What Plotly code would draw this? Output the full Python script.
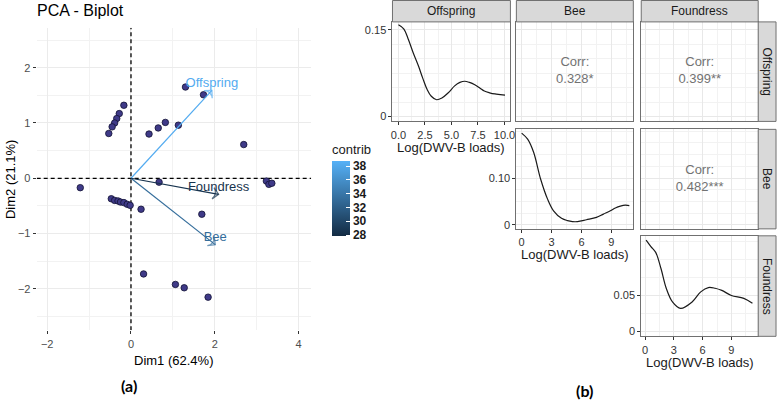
import plotly.graph_objects as go
from plotly.colors import sample_colorscale

W, H = 784, 403

# ---------------- data ----------------
ind_x = [1.30, 1.73, -0.17, -0.28, -0.34, -0.39, -0.45, -0.53, 0.43, 0.65, 0.82, 1.13, 2.69,
         0.67, -1.21, 3.23, 3.29, 3.36, -0.47, -0.39, -0.31, -0.25, -0.17, -0.09, -0.02,
         0.24, 1.69, 0.30, 1.06, 1.27, 1.84]
ind_y = [1.65, 1.51, 1.32, 1.17, 1.08, 1.00, 0.93, 0.81, 0.80, 0.91, 1.01, 0.96, 0.61,
         -0.07, -0.17, -0.05, -0.11, -0.09, -0.37, -0.40, -0.41, -0.43, -0.44, -0.47, -0.49,
         -0.56, -0.65, -1.73, -1.92, -1.98, -2.15]

var_names = ["Offspring", "Bee", "Foundress"]
var_x = [1.93, 2.01, 2.09]
var_y = [1.59, -1.20, -0.29]
var_contrib = [38.3, 33.2, 28.5]
contrib_ticks = [28, 30, 32, 34, 36, 38]

off_x = [0.0, 0.5, 0.95, 1.4, 1.9, 2.3, 2.7, 3.1, 3.6, 4.1, 4.7, 5.3, 5.8, 6.25, 6.7, 7.2, 7.7, 8.1, 8.6, 9.1, 9.6, 10.05]
off_y = [0.159, 0.152, 0.133, 0.110, 0.087, 0.066, 0.047, 0.035, 0.029, 0.032, 0.041, 0.053, 0.059, 0.061, 0.059, 0.055, 0.049, 0.044, 0.041, 0.039, 0.038, 0.037]
bee_x = [0.0, 0.6, 1.2, 1.9, 2.6, 3.2, 4.0, 4.6, 5.1, 5.6, 6.5, 7.5, 8.2, 8.9, 9.4, 9.9, 10.4, 10.8]
bee_y = [0.196, 0.183, 0.155, 0.098, 0.055, 0.030, 0.014, 0.009, 0.007, 0.007, 0.011, 0.016, 0.023, 0.030, 0.036, 0.040, 0.042, 0.041]
fou_x = [0.1, 0.6, 1.1, 1.65, 2.2, 2.85, 3.7, 4.9, 5.8, 6.6, 7.3, 8.0, 9.0, 10.3, 11.2]
fou_y = [0.127, 0.118, 0.110, 0.0875, 0.060, 0.041, 0.032, 0.041, 0.055, 0.061, 0.060, 0.057, 0.050, 0.046, 0.039]

corr_labels = ["0.328*", "0.399**", "0.482***"]   # Bee-Off, Fou-Off, Fou-Bee
x_title = "Log(DWV-B loads)"

# ---------------- helpers ----------------
def px(x):
    return x / W

def py(y):
    return 1 - y / H

FONT = "Liberation Sans, Arial, sans-serif"
CMIN, CMAX = 27.85, 38.75
SCALE = [[0, "#132B43"], [1, "#56B1F7"]]
var_cols = sample_colorscale(SCALE, [(c - CMIN) / (CMAX - CMIN) for c in var_contrib])

fig = go.Figure()

# ---------------- biplot ----------------
fig.add_trace(go.Scatter(
    x=ind_x, y=ind_y, mode="markers", xaxis="x", yaxis="y",
    marker=dict(size=6.5, color="#3F3A88", line=dict(color="#111133", width=0.8)),
    showlegend=False, hoverinfo="skip"))

for name, vx, vy, col in zip(var_names, var_x, var_y, var_cols):
    fig.add_trace(go.Scatter(
        x=[0, vx], y=[0, vy], mode="lines+markers", xaxis="x", yaxis="y",
        line=dict(color=col, width=1.2),
        marker=dict(symbol=["circle", "arrow-wide-open"], size=[0, 8], angleref="previous",
                    color=col, line=dict(color=col, width=1.3)),
        showlegend=False, hoverinfo="skip"))
    fig.add_trace(go.Scatter(
        x=[vx], y=[vy], mode="text", text=[name], textposition="top center",
        xaxis="x", yaxis="y", textfont=dict(color=col, size=13, family=FONT),
        showlegend=False, hoverinfo="skip"))

# colour bar
fig.add_trace(go.Scatter(
    x=var_x, y=var_y, mode="markers", xaxis="x", yaxis="y",
    marker=dict(size=0.1, opacity=0, color=var_contrib, colorscale=SCALE, cmin=CMIN, cmax=CMAX,
                showscale=True,
                colorbar=dict(x=px(333), xanchor="left", y=py(189.5), yanchor="middle",
                              len=95.6 / H, lenmode="fraction", thickness=18,
                              xpad=0, ypad=0, outlinewidth=0,
                              tickvals=contrib_ticks, ticks="inside", ticklen=4,
                              tickcolor="white", tickwidth=1,
                              tickfont=dict(size=12, color="#1a1a1a", family=FONT, weight="bold"),
                              title=dict(text="contrib", side="top",
                                         font=dict(size=13, color="#1a1a1a", family=FONT)))),
    showlegend=False, hoverinfo="skip"))

XR = [-2.25, 4.30]
YR = [-2.75, 2.72]
shapes = [
    dict(type="line", xref="x", yref="y", x0=0, x1=0, y0=YR[0], y1=YR[1],
         line=dict(color="black", width=1.3, dash="4px,3px"), layer="between"),
    dict(type="line", xref="x", yref="y", x0=XR[0], x1=XR[1], y0=0, y1=0,
         line=dict(color="black", width=1.3, dash="4px,3px"), layer="between"),
]

layout_axes = dict(
    xaxis=dict(domain=[px(35), px(312)], range=XR, anchor="y", tickvals=[-2, 0, 2, 4],
               showgrid=True, gridcolor="#EBEBEB", gridwidth=1, zeroline=False,
               minor=dict(tickvals=[-1, 1, 3], showgrid=True, gridcolor="#F2F2F2", gridwidth=0.8),
               ticks="outside", ticklen=3, tickcolor="#333333",
               tickfont=dict(size=11, color="#4D4D4D", family=FONT), showline=False),
    yaxis=dict(domain=[py(332), py(28)], range=YR, anchor="x", tickvals=[-2, -1, 0, 1, 2],
               showgrid=True, gridcolor="#EBEBEB", gridwidth=1, zeroline=False,
               minor=dict(tickvals=[-2.5, -1.5, -0.5, 0.5, 1.5, 2.5], showgrid=True,
                          gridcolor="#F2F2F2", gridwidth=0.8),
               ticks="outside", ticklen=3, tickcolor="#333333",
               tickfont=dict(size=11, color="#4D4D4D", family=FONT), showline=False),
)

# ---------------- pairs panels ----------------
cols = [(394, 513), (519, 637), (645, 763)]
rows = [(22, 122), (130, 230), (237, 338)]
col_range = [[-0.56, 10.56], [-0.53, 11.2], [-0.41, 11.8]]
row_range = [[-0.0086, 0.164], [-0.0085, 0.204], [-0.0069, 0.133]]
col_major = [[0, 2.5, 5, 7.5, 10], [0, 3, 6, 9], [0, 3, 6, 9]]
col_text = [["0.0", "2.5", "5.0", "7.5", "10.0"], ["0", "3", "6", "9"], ["0", "3", "6", "9"]]
col_minor = [[1.25, 3.75, 6.25, 8.75], [1.5, 4.5, 7.5, 10.5], [1.5, 4.5, 7.5, 10.5]]
row_major = [[0, 0.15], [0, 0.10], [0, 0.05]]
row_text = [["0", "0.15"], ["0", "0.10"], ["0", "0.05"]]
row_minor = [[0.025, 0.05, 0.075, 0.1, 0.125],
             [0.025, 0.05, 0.075, 0.125, 0.15, 0.175, 0.2],
             [0.025, 0.075, 0.1, 0.125]]

panels = [  # (axis index, row, col, kind)
    (2, 0, 0, "d"), (3, 0, 1, "c"), (4, 0, 2, "c"),
    (5, 1, 1, "d"), (6, 1, 2, "c"), (7, 2, 2, "d"),
]
dens = {0: (off_x, off_y), 1: (bee_x, bee_y), 2: (fou_x, fou_y)}
corr_map = {(0, 1): corr_labels[0], (0, 2): corr_labels[1], (1, 2): corr_labels[2]}

annotations = []
for k, r, c, kind in panels:
    xa, ya = f"x{k}", f"y{k}"
    show = kind == "d"
    layout_axes[f"xaxis{k}"] = dict(
        domain=[px(cols[c][0]), px(cols[c][1])], range=col_range[c], anchor=ya,
        tickvals=col_major[c], ticktext=col_text[c], showticklabels=show,
        ticks="outside" if show else "", ticklen=3, tickcolor="#333333",
        tickfont=dict(size=11, color="#333333", family=FONT),
        showgrid=True, gridcolor="#E8E8E8", gridwidth=1, zeroline=False,
        minor=dict(tickvals=col_minor[c], showgrid=True, gridcolor="#F2F2F2", gridwidth=0.8),
        showline=True, mirror=True, linecolor="#707070", linewidth=1)
    layout_axes[f"yaxis{k}"] = dict(
        domain=[py(rows[r][1]), py(rows[r][0])], range=row_range[r], anchor=xa,
        tickvals=row_major[r], ticktext=row_text[r], showticklabels=show,
        ticks="outside" if show else "", ticklen=3, tickcolor="#333333",
        tickfont=dict(size=11, color="#333333", family=FONT),
        showgrid=True, gridcolor="#E8E8E8", gridwidth=1, zeroline=False,
        minor=dict(tickvals=row_minor[r], showgrid=True, gridcolor="#F2F2F2", gridwidth=0.8),
        showline=True, mirror=True, linecolor="#707070", linewidth=1)
    if kind == "d":
        dx, dy = dens[c]
        fig.add_trace(go.Scatter(x=dx, y=dy, mode="lines", xaxis=xa, yaxis=ya,
                                 line=dict(color="#1a1a1a", width=1.2, shape="spline", smoothing=1.0),
                                 showlegend=False, hoverinfo="skip"))
        annotations.append(dict(xref="paper", yref="paper",
                                x=px((cols[c][0] + cols[c][1]) / 2),
                                y=py(rows[r][1] + 26), text=x_title, showarrow=False,
                                xanchor="center", yanchor="middle",
                                font=dict(size=13, color="#1a1a1a", family=FONT)))
    else:
        cx = sum(col_range[c]) / 2
        cy = sum(row_range[r]) / 2
        fig.add_trace(go.Scatter(x=[cx], y=[cy], mode="text", xaxis=xa, yaxis=ya,
                                 text=["Corr:<br>" + corr_map[(r, c)]],
                                 textposition="middle center",
                                 textfont=dict(size=13, color="#727272", family=FONT),
                                 showlegend=False, hoverinfo="skip"))

# strips
for c, name in enumerate(var_names):
    shapes.append(dict(type="rect", xref="paper", yref="paper",
                       x0=px(cols[c][0]), x1=px(cols[c][1]), y0=py(22), y1=py(0.5),
                       fillcolor="#D9D9D9", line=dict(color="#707070", width=1)))
    annotations.append(dict(xref="paper", yref="paper", x=px((cols[c][0] + cols[c][1]) / 2),
                            y=py(11.5), text=name, showarrow=False,
                            xanchor="center", yanchor="middle",
                            font=dict(size=12, color="#1a1a1a", family=FONT)))
for r, name in enumerate(var_names):
    shapes.append(dict(type="rect", xref="paper", yref="paper",
                       x0=px(763), x1=px(781), y0=py(rows[r][1]), y1=py(rows[r][0]),
                       fillcolor="#D9D9D9", line=dict(color="#707070", width=1)))
    annotations.append(dict(xref="paper", yref="paper", x=px(772),
                            y=py((rows[r][0] + rows[r][1]) / 2), text=name, showarrow=False,
                            xanchor="center", yanchor="middle",
                            textangle=90, font=dict(size=12, color="#1a1a1a", family=FONT)))

# titles and captions
annotations += [
    dict(xref="paper", yref="paper", x=px(33), y=py(11), text="PCA - Biplot", showarrow=False,
         xanchor="left", yanchor="middle", font=dict(size=16, color="black", family=FONT)),
    dict(xref="paper", yref="paper", x=px(173), y=py(362), text="Dim1 (62.4%)", showarrow=False,
         xanchor="center", yanchor="middle", font=dict(size=13, color="black", family=FONT)),
    dict(xref="paper", yref="paper", x=px(8), y=py(180), text="Dim2 (21.1%)", showarrow=False,
         textangle=-90, xanchor="center", yanchor="middle",
         font=dict(size=13, color="black", family=FONT)),
    dict(xref="paper", yref="paper", x=px(128), y=py(387), text="<b>(a)</b>", showarrow=False,
         xanchor="center", yanchor="middle", font=dict(size=16, color="black", family="Lato, sans-serif")),
    dict(xref="paper", yref="paper", x=px(588), y=py(392), text="<b>(b)</b>", showarrow=False,
         xanchor="center", yanchor="middle", font=dict(size=16, color="black", family="Lato, sans-serif")),
]

fig.update_layout(
    width=W, height=H, margin=dict(l=0, r=0, t=0, b=0),
    paper_bgcolor="white", plot_bgcolor="white",
    font=dict(family=FONT), showlegend=False,
    shapes=shapes, annotations=annotations,
    **layout_axes)

fig.write_html("out.html", config={"displayModeBar": False},
               post_script="document.body.style.margin='0';document.body.style.overflow='hidden';")
